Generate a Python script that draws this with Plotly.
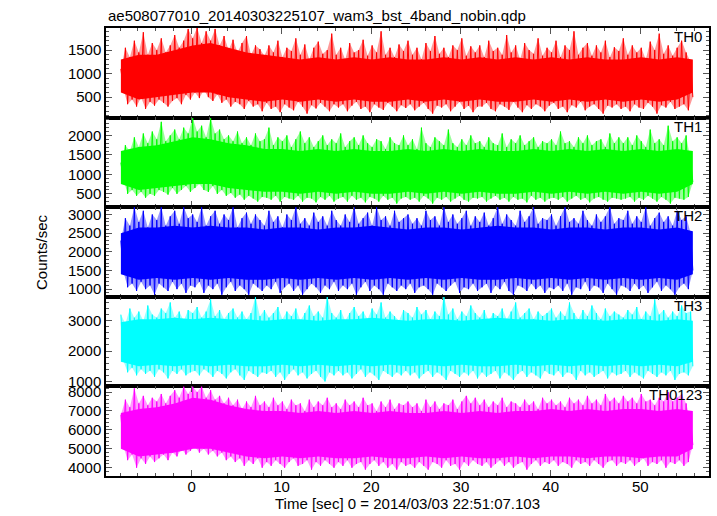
import numpy as np
import plotly.graph_objects as go
from plotly.subplots import make_subplots

TITLE = "ae508077010_20140303225107_wam3_bst_4band_nobin.qdp"
X_TITLE = "Time [sec] 0 = 2014/03/03 22:51:07.103"
Y_TITLE = "Counts/sec"
PANELS = ["TH0", "TH1", "TH2", "TH3", "TH0123"]
COLORS = ["#ff0000", "#00ff00", "#0000ff", "#00ffff", "#ff00ff"]
FRINGE = ["rgba(255,0,0,0.4)", "rgba(0,255,0,0.4)", "rgba(0,0,255,0.4)",
          "rgba(0,255,255,0.4)", "rgba(255,0,255,0.4)"]

T_START = -7.9   # first time bin [sec]
T_STEP = 0.5     # bin width of the spike envelope [sec]
C_START = -7.9   # first time of the dense-core envelope [sec]
C_STEP = 2.0     # spacing of the dense-core envelope [sec]

# per 0.5 s bin: highest / lowest excursion of the count rate
th0_hi = [1100,1550,1350,1700,1450,1880,1400,1650,1500,1750,1450,1600,1820,1550,1700,1950,
          1750,1980,1650,1900,1700,1950,1600,1800,1500,1720,1450,1650,1800,1400,1600,1520,
          1380,1600,1450,1700,1350,1550,1480,1750,1400,1620,1300,1550,1680,1420,1500,1850,
          1400,1550,1300,1650,1450,1500,1720,1380,1600,1450,1900,1400,1550,1350,1620,1480,
          1700,1400,1550,1300,1650,1480,1800,1420,1550,1350,1600,1500,1750,1380,1580,1450,
          1600,1350,1700,1480,1550,1400,1820,1450,1600,1300,1650,1500,1420,1750,1380,1550,
          1450,1700,1350,1600,1500,1900,1400,1550,1650,1380,1600,1450,1700,1350,1560,1480,
          1750,1400,1600,1450,1550,1300,1680,1500,1850,1420,1600,1380,1550,1700,1450,1250]
th0_lo = [700,350,450,300,500,250,400,320,450,380,300,420,480,350,550,450,
          600,480,650,500,420,560,380,450,300,400,350,250,420,300,350,200,
          380,250,300,180,350,280,220,400,300,150,330,260,380,300,200,350,
          280,350,200,320,400,250,300,180,350,280,230,380,300,200,330,270,
          350,220,300,380,250,150,320,280,350,200,300,400,250,320,180,300,
          300,380,250,200,350,300,230,400,280,180,330,250,350,300,200,320,
          380,250,300,180,330,280,400,220,300,350,250,150,320,280,350,250,
          300,200,350,280,250,380,300,150,330,280,400,250,300,350,220,500]

th1_hi = [1300,1750,1600,1950,1700,2050,1800,2100,1900,2350,1850,2000,2150,1900,2200,2050,
          2450,2100,2250,1950,2450,2050,2150,1900,2000,1850,2100,1800,1950,1750,2050,1850,
          1900,2200,1750,1950,1850,2000,1700,1900,2100,1800,1950,1700,1850,2000,1750,1900,
          1800,2050,1700,1850,1950,1750,2000,1800,1700,1900,1850,1650,1950,1800,1750,2000,
          1750,1900,1650,2200,1800,1700,1950,1850,1750,2150,1800,1700,1900,1750,2000,1800,
          1850,1700,1950,1800,1750,2050,1700,1900,1800,2000,1750,1850,1950,1700,1850,1800,
          1900,1750,2100,1800,1850,1700,1950,1800,2000,1750,1850,1900,1700,2050,1800,1950,
          1800,1950,1750,2000,1850,1700,2150,1800,1900,1750,2250,1850,1950,1800,2000,1350]
th1_lo = [900,500,600,450,550,400,500,450,600,550,480,650,500,600,700,550,
          650,750,600,550,700,500,600,450,520,400,480,350,450,380,300,420,
          400,350,450,300,420,380,350,450,300,400,380,280,420,350,450,300,
          380,420,300,450,350,400,280,420,380,300,450,350,400,250,380,420,
          350,400,300,450,380,250,400,350,420,300,380,450,350,300,400,380,
          420,300,380,450,350,400,300,420,350,380,280,450,350,400,300,380,
          400,350,420,300,380,450,350,400,280,380,420,350,300,400,380,350,
          380,420,300,400,350,450,380,300,420,350,250,400,380,350,420,800]

th2_hi = [2300,2900,2700,3200,2800,3100,2650,3000,2850,3200,2700,2950,3100,2750,3200,2900,
          3000,2800,3200,2700,2950,3100,2750,3000,2850,3200,2650,2900,3050,2750,3000,2850,
          2700,3100,2800,2950,2650,3000,2850,3200,2750,2900,2700,3050,2800,2950,2700,3100,
          2850,2700,3000,2800,3200,2750,2900,3050,2700,3200,2850,2950,2700,3100,2800,2900,
          3000,2750,2900,2700,3100,2850,2950,2700,3200,2800,3000,2750,2900,3100,2700,2950,
          2800,3050,2700,2900,3200,2750,3000,2850,2700,3100,2800,2950,3200,2750,2900,2850,
          3000,2700,2950,3200,2800,2900,2750,3100,2850,2700,3000,2800,2950,3200,2750,2900,
          2850,3100,2750,2950,2800,3200,2700,2900,3050,2800,2950,2700,3100,2850,2950,2500]
th2_lo = [1500,1050,1150,950,1200,1000,1100,850,1150,1050,950,1200,1000,1150,900,1100,
          1050,1200,900,1100,1000,1150,850,1050,1200,950,1100,1000,850,1150,1050,950,
          1100,1000,1200,900,1050,1150,950,1100,850,1000,1150,1050,900,1100,1000,1200,
          950,1100,1000,1150,850,1050,1200,950,1100,1000,850,1150,1050,950,1100,1000,
          1150,900,1050,1100,1000,850,1150,1050,950,1100,1200,900,1050,1000,1150,950,
          1050,1150,900,1100,1000,1200,950,850,1100,1050,950,1150,1000,1100,900,1050,
          1000,1100,950,1150,850,1050,1000,1200,950,1100,1050,900,1150,1000,850,1100,
          1050,950,1150,1000,1100,900,1050,1200,950,1100,1000,850,1050,1150,1000,1500]

th3_hi = [3200,2900,3400,3100,3300,3000,3500,3200,3100,3400,3250,3600,3100,3300,3000,3350,
          3250,3450,3100,3300,3700,3150,3350,3050,3250,3400,3100,3300,3050,3250,3800,3150,
          3350,3100,3250,3450,3050,3300,3150,3400,3000,3250,3500,3150,3300,3100,3800,3250,
          3100,3350,3000,3250,3450,3150,3300,3050,3400,3200,3600,3100,3300,3150,3000,3350,
          3250,3100,3450,3200,3350,3050,3300,3150,3800,3200,3400,3050,3300,3150,3500,3250,
          3100,3350,3000,3250,3150,3400,3050,3300,3600,3100,3250,3400,3050,3300,3150,3250,
          3400,3100,3300,3150,3600,3250,3050,3350,3150,3500,3250,3050,3400,3150,3300,3200,
          3100,3350,3200,3450,3050,3300,3150,3700,3200,3350,3100,3300,3150,3500,3250,3300]
th3_lo = [1700,1300,1450,1200,1400,1250,1350,1150,1400,1300,1100,1350,1250,1400,1200,1300,
          1350,1200,1400,1300,1150,1350,1250,1100,1300,1400,1200,1050,1350,1250,1150,1300,
          1250,1350,1150,1300,1050,1250,1400,1200,1300,1100,1250,1350,1150,1000,1300,1200,
          1350,1200,1300,1100,1250,1400,1150,1300,1200,1050,1350,1250,1150,1300,1200,1350,
          1200,1300,1100,1250,1350,1150,1300,1200,1050,1350,1250,1150,1300,1200,1350,1100,
          1300,1150,1250,1350,1100,1300,1200,1050,1250,1350,1150,1300,1200,1100,1350,1250,
          1200,1350,1150,1300,1250,1050,1350,1200,1300,1150,1250,1350,1100,1300,1200,1250,
          1350,1150,1300,1200,1100,1350,1250,1150,1300,1200,1350,1050,1250,1300,1200,1500]

th0123_hi = [6800,7600,7200,8200,7400,7800,7300,7700,7500,7900,7400,7800,8100,7700,8300,7900,
             8300,8000,8300,7700,8100,7600,7800,7400,7700,7300,7600,7100,7500,7200,7800,7300,
             7500,7200,7700,7300,7500,7100,7600,7300,7400,7000,7600,7200,7500,7300,7700,7200,
             7400,7100,7600,7300,7500,7200,7700,7300,7400,7000,7500,7200,7600,7100,7400,7300,
             7500,7200,7400,7000,7600,7200,7500,7100,7400,7300,7600,7100,7500,7800,7400,7700,
             7300,7600,7200,7500,7300,7700,7200,7500,7400,7200,7600,7300,7500,7100,7700,7400,
             7600,7300,7500,7200,7700,7400,7600,7300,7800,7400,7600,7300,7900,7500,7700,7400,
             7800,7500,7700,7400,7900,7500,7600,7300,7700,7500,8000,7500,7700,7900,7400,6500]
th0123_lo = [5200,4400,4700,4000,4500,4200,4600,4300,4500,4700,4400,4800,4600,5000,4700,4900,
             5100,4800,5000,4700,4900,4600,4800,4400,4600,4300,4500,4100,4400,4200,4500,4000,
             4300,4100,4400,4200,4000,4300,4500,4100,4200,4400,3900,4300,4100,4400,4200,4000,
             4300,4100,4400,4000,4200,4300,3900,4200,4400,4100,4300,4000,4200,3900,4300,4100,
             4200,4000,4300,4100,3900,4300,4200,4000,4400,4100,4200,3900,4300,4100,4400,4200,
             4100,4300,4000,4200,4400,4100,4300,4000,4200,4300,3900,4200,4400,4100,4300,4200,
             4400,4100,4300,4200,4000,4400,4200,4300,4100,4400,4200,4000,4300,4400,4100,4300,
             4200,4400,4100,4300,4500,4100,4300,4200,4400,4000,4300,4200,4400,4100,4300,5200]

# every 2 s: upper / lower edge of the dense (solid) part of each light curve
th0_core_hi = [1300,1400,1400,1500,1600,1650,1550,1450,1400,1350,1300,1350,1300,1350,1300,1350,1300,
               1300,1350,1300,1350,1300,1350,1300,1350,1300,1350,1300,1300,1350,1300,1350,1300]
th0_core_lo = [600,450,500,550,600,600,500,450,400,450,400,450,400,450,400,400,450,
               400,450,400,450,400,400,450,400,450,400,450,400,450,400,450,600]
th1_core_hi = [1600,1700,1750,1850,1950,1900,1800,1750,1650,1650,1600,1650,1600,1650,1600,1600,1650,
               1600,1650,1600,1650,1600,1600,1650,1600,1650,1600,1650,1600,1650,1600,1650,1600]
th1_core_lo = [750,600,650,700,750,750,650,600,550,550,500,550,500,550,500,500,550,
               500,550,500,550,500,500,550,500,550,500,550,500,550,500,550,750]
th2_core_hi = [2500,2650,2650,2700,2650,2700,2650,2650,2600,2650,2650,2600,2650,2650,2700,2650,2600,
               2650,2650,2600,2650,2700,2650,2650,2600,2650,2650,2600,2650,2650,2600,2650,2550]
th2_core_lo = [1400,1250,1300,1250,1300,1250,1300,1250,1250,1300,1250,1300,1250,1300,1250,1300,1250,
               1300,1250,1300,1250,1250,1300,1250,1300,1250,1300,1250,1300,1250,1300,1250,1400]
th3_core_hi = [2950,3050,3050,3100,3050,3100,3050,3050,3000,3050,3050,3000,3050,3050,3100,3050,3000,
               3050,3050,3000,3050,3100,3050,3050,3000,3050,3050,3000,3050,3050,3000,3050,3000]
th3_core_lo = [1650,1500,1550,1500,1550,1500,1550,1500,1500,1550,1500,1550,1500,1550,1500,1550,1500,
               1550,1500,1550,1500,1500,1550,1500,1550,1500,1550,1500,1550,1500,1550,1500,1650]
th0123_core_hi = [6900,7100,7200,7400,7700,7600,7300,7100,7000,7000,6900,7000,6900,7000,6900,7000,6900,
                  6900,7000,6900,7000,6900,7000,7000,7100,7000,7100,7000,7100,7100,7000,7100,7000]
th0123_core_lo = [5000,4600,4700,4800,5000,5000,4800,4600,4500,4600,4500,4600,4500,4500,4600,4500,4500,
                  4600,4500,4600,4500,4500,4600,4500,4600,4600,4500,4600,4600,4500,4600,4600,5000]

HI = [th0_hi, th1_hi, th2_hi, th3_hi, th0123_hi]
LO = [th0_lo, th1_lo, th2_lo, th3_lo, th0123_lo]
CORE_HI = [th0_core_hi, th1_core_hi, th2_core_hi, th3_core_hi, th0123_core_hi]
CORE_LO = [th0_core_lo, th1_core_lo, th2_core_lo, th3_core_lo, th0123_core_lo]

Y_RANGES = [[65, 1970], [156, 2458], [795, 3195], [836, 3787], [3563, 8300]]
Y_DTICK = [500, 500, 500, 1000, 1000]
Y_MINOR = [100, 100, 100, 200, 200]
X_RANGE = [-9.56, 57.65]

FONT = "Liberation Sans, Arial, Helvetica, sans-serif"

fig = make_subplots(rows=5, cols=1, shared_xaxes=True, vertical_spacing=0)

for i in range(5):
    hi = np.asarray(HI[i], dtype=float)
    lo = np.asarray(LO[i], dtype=float)
    t = T_START + T_STEP * np.arange(len(hi))
    # light fringe: envelope of the fluctuations
    fig.add_trace(go.Scatter(x=np.concatenate([t, (t + T_STEP / 2)[::-1]]),
                             y=np.concatenate([hi, lo[::-1]]),
                             mode="lines", fill="toself", fillcolor=FRINGE[i],
                             line=dict(color=FRINGE[i], width=0),
                             showlegend=False, hoverinfo="skip"),
                  row=i + 1, col=1)
    # dense core of the light curve
    chi = np.asarray(CORE_HI[i], dtype=float)
    clo = np.asarray(CORE_LO[i], dtype=float)
    tc = C_START + C_STEP * np.arange(len(chi))
    tc[-1] = min(tc[-1], t[-1] + T_STEP / 2)
    fig.add_trace(go.Scatter(x=np.concatenate([tc, tc[::-1]]),
                             y=np.concatenate([chi, clo[::-1]]),
                             mode="lines", fill="toself", fillcolor=COLORS[i],
                             line=dict(color=COLORS[i], width=0),
                             showlegend=False, hoverinfo="skip"),
                  row=i + 1, col=1)
    # rapid fluctuations: alternate between bin maximum and bin minimum
    xs = np.empty(2 * len(hi))
    ys = np.empty(2 * len(hi))
    xs[0::2] = t
    xs[1::2] = t + T_STEP / 2
    ys[0::2] = hi
    ys[1::2] = lo
    fig.add_trace(go.Scatter(x=xs, y=ys, mode="lines",
                             line=dict(color=COLORS[i], width=1.0),
                             showlegend=False, hoverinfo="skip"),
                  row=i + 1, col=1)

axis_common = dict(showline=True, linecolor="black", linewidth=1.5, mirror="allticks",
                   ticks="inside", ticklen=6, tickcolor="#555555", tickwidth=1.2,
                   showgrid=False, zeroline=False,
                   tickfont=dict(family=FONT, size=15, color="black"))

for i in range(5):
    fig.update_yaxes(range=Y_RANGES[i], dtick=Y_DTICK[i], tick0=0,
                     minor=dict(dtick=Y_MINOR[i], tick0=0, ticks="inside", ticklen=3,
                                tickcolor="#555555", tickwidth=1),
                     **axis_common, row=i + 1, col=1)
    fig.update_xaxes(range=X_RANGE, dtick=10, tick0=0, ticklabelstandoff=-4,
                     minor=dict(dtick=2, tick0=0, ticks="inside", ticklen=3,
                                tickcolor="#555555", tickwidth=1),
                     **axis_common, row=i + 1, col=1)
    fig.add_annotation(text=PANELS[i], xref="paper", x=1, xanchor="right", xshift=-5,
                       yref=f"y{'' if i == 0 else i + 1} domain", y=1, yanchor="top",
                       yshift=2, showarrow=False,
                       font=dict(family=FONT, size=15, color="black"))

fig.add_annotation(text=TITLE, xref="paper", yref="paper", x=0, y=1, xanchor="left",
                   yanchor="bottom", yshift=2, showarrow=False,
                   font=dict(family=FONT, size=15, color="black"))
fig.add_annotation(text=X_TITLE, xref="paper", yref="paper", x=0.5, y=0, xanchor="center",
                   yanchor="top", yshift=-17, showarrow=False,
                   font=dict(family=FONT, size=15, color="black"))
fig.add_annotation(text=Y_TITLE, xref="paper", yref="paper", x=0, y=0.5, xanchor="center",
                   yanchor="middle", xshift=-65, textangle=-90, showarrow=False,
                   font=dict(family=FONT, size=15, color="black"))

fig.update_layout(width=717, height=516, margin=dict(l=106, r=6, t=28, b=40),
                  plot_bgcolor="white", paper_bgcolor="white",
                  font=dict(family=FONT, size=15, color="black"))

fig.write_html("out.html", config={"displayModeBar": False},
               post_script="document.body.style.margin='0';")
